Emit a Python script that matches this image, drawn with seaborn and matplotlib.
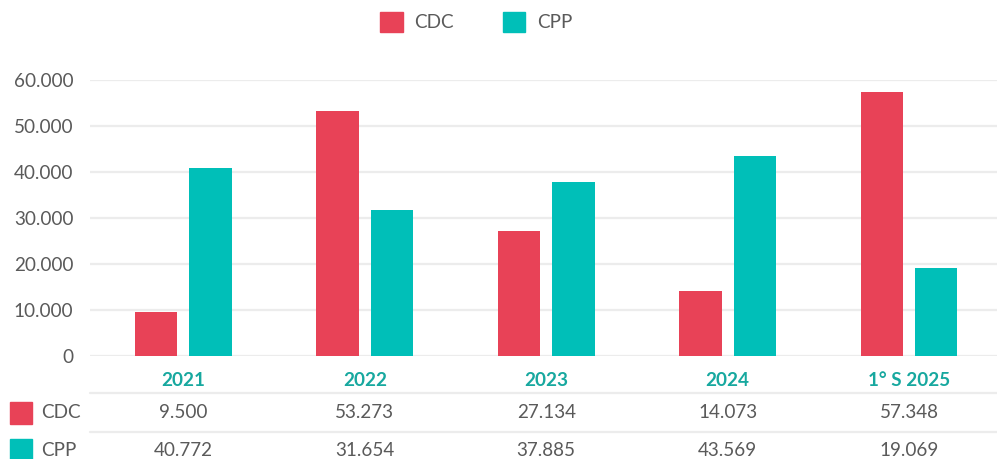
import pandas as pd
import seaborn as sns
import matplotlib.pyplot as plt
from matplotlib.patches import Patch
from matplotlib.ticker import FuncFormatter

categories = ["2021", "2022", "2023", "2024", "1° S 2025"]
cdc = [9500, 53273, 27134, 14073, 57348]
cpp = [40772, 31654, 37885, 43569, 19069]
series = ["CDC", "CPP"]

red = "#e84257"
teal = "#00bfb8"
label_teal = "#17a89f"
grey_text = "#5a5a5a"
grid_col = "#ececec"
fs = 13.6


def fmt(v):
    return f"{v:,.0f}".replace(",", ".")


df = pd.DataFrame({
    "cat": categories * 2,
    "serie": ["CDC"] * len(categories) + ["CPP"] * len(categories),
    "valore": cdc + cpp,
})

sns.set_theme(style="white")
plt.rcParams["font.family"] = ["Lato", "DejaVu Sans"]

fig = plt.figure(figsize=(9.97, 4.59), dpi=100, facecolor="white")
ax = fig.add_axes([90 / 997, (459 - 356) / 459, 907 / 997, 276 / 459])

sns.barplot(data=df, x="cat", y="valore", hue="serie", order=categories,
            hue_order=series, palette=[red, teal], width=0.6, gap=0.22,
            saturation=1, linewidth=0, ax=ax, legend=False, zorder=3)

ax.set_ylim(0, 60000)
ax.set_xlim(-0.515, len(categories) - 0.515)
ax.set_yticks(range(0, 60001, 10000))
ax.yaxis.set_major_formatter(FuncFormatter(lambda v, p: fmt(v)))
ax.grid(axis="y", color=grid_col, linewidth=1.6, zorder=0)
ax.set_axisbelow(True)
for s in ax.spines.values():
    s.set_visible(False)
ax.tick_params(axis="y", length=0, pad=12, labelsize=fs, labelcolor=grey_text)
ax.set_xticks([])
ax.set_xlabel("")
ax.set_ylabel("")

# data table below the chart
tr = ax.get_xaxis_transform()
for i, c in enumerate(categories):
    ax.text(i, -0.087, c, transform=tr, ha="center", va="center",
            fontsize=fs, fontweight="bold", color=label_teal, clip_on=False)
    ax.text(i, -0.2065, fmt(cdc[i]), transform=tr, ha="center", va="center",
            fontsize=fs, color=grey_text, clip_on=False)
    ax.text(i, -0.341, fmt(cpp[i]), transform=tr, ha="center", va="center",
            fontsize=fs, color=grey_text, clip_on=False)

for yl in [-0.134, -0.275]:
    ax.plot([0, 1], [yl, yl], transform=ax.transAxes, color=grid_col,
            linewidth=1.6, clip_on=False)

for name, col, yp in [("CDC", red, 413), ("CPP", teal, 450)]:
    fig.patches.append(plt.Rectangle((10 / 997, 1 - (yp + 11) / 459), 22 / 997, 22 / 459,
                                     transform=fig.transFigure, color=col))
    fig.text(41 / 997, 1 - yp / 459, name, ha="left", va="center",
             fontsize=fs, color=grey_text)

handles = [Patch(color=red, label="CDC"), Patch(color=teal, label="CPP")]
fig.legend(handles=handles, loc="center", bbox_to_anchor=(476 / 997, 1 - 22 / 459),
           ncol=2, frameon=False, fontsize=fs, handlelength=1.2, handleheight=1.2,
           columnspacing=2.6, handletextpad=0.6, labelcolor=grey_text)

fig.savefig("out.png", dpi=100, facecolor="white")
